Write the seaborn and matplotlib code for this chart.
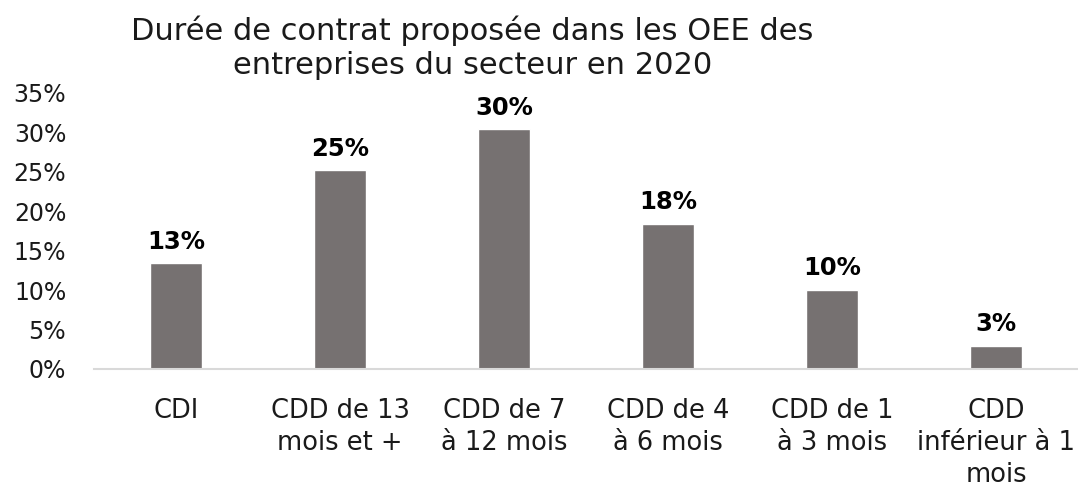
import matplotlib
matplotlib.use("Agg")
import matplotlib.pyplot as plt
import seaborn as sns
import pandas as pd
from matplotlib.ticker import PercentFormatter

sns.set_theme(style="white")
plt.rcParams['font.family'] = ['DejaVu Sans']

# ------------------------------
# DATA
# ------------------------------
categories = [
    "CDI",
    "CDD de 13\nmois et +",
    "CDD de 7\nà 12 mois",
    "CDD de 4\nà 6 mois",
    "CDD de 1\nà 3 mois",
    "CDD\ninférieur à 1\nmois",
]
shares = [0.134, 0.252, 0.304, 0.184, 0.100, 0.029]
title = "Durée de contrat proposée dans les OEE des\nentreprises du secteur en 2020"

df = pd.DataFrame({"contrat": categories, "part": shares})

# ------------------------------
# CHART
# ------------------------------
fig = plt.figure(figsize=(10.78, 4.92), dpi=100)
ax = fig.add_axes([0.0872, 0.25, 0.913, 0.561])

sns.barplot(data=df, x="contrat", y="part", color="#767171", width=0.315,
            saturation=1, ax=ax)

ax.set_ylim(0, 0.35)
ax.set_yticks([i * 0.05 for i in range(8)])
ax.yaxis.set_major_formatter(PercentFormatter(1.0, decimals=0))
ax.set_xlabel("")
ax.set_ylabel("")

for s in ["top", "right", "left"]:
    ax.spines[s].set_visible(False)
ax.spines["bottom"].set_color("#D9D9D9")
ax.spines["bottom"].set_linewidth(1.5)

ax.tick_params(axis="y", length=0, pad=20, labelsize=17, labelcolor="#1a1a1a")
ax.tick_params(axis="x", length=0, pad=21, labelsize=18.5, labelcolor="#1a1a1a")
for lbl in ax.get_xticklabels():
    lbl.set_multialignment("center")
    lbl.set_linespacing(1.3)

ax.bar_label(ax.containers[0], labels=[f"{v * 100:.0f}%" for v in shares],
             padding=7, fontsize=17.5, fontweight="bold", color="black")

fig.text(0.438, 0.9035, title, ha="center", va="center", fontsize=22,
         color="#1a1a1a", linespacing=1.2)

fig.savefig("out.png", dpi=100)
